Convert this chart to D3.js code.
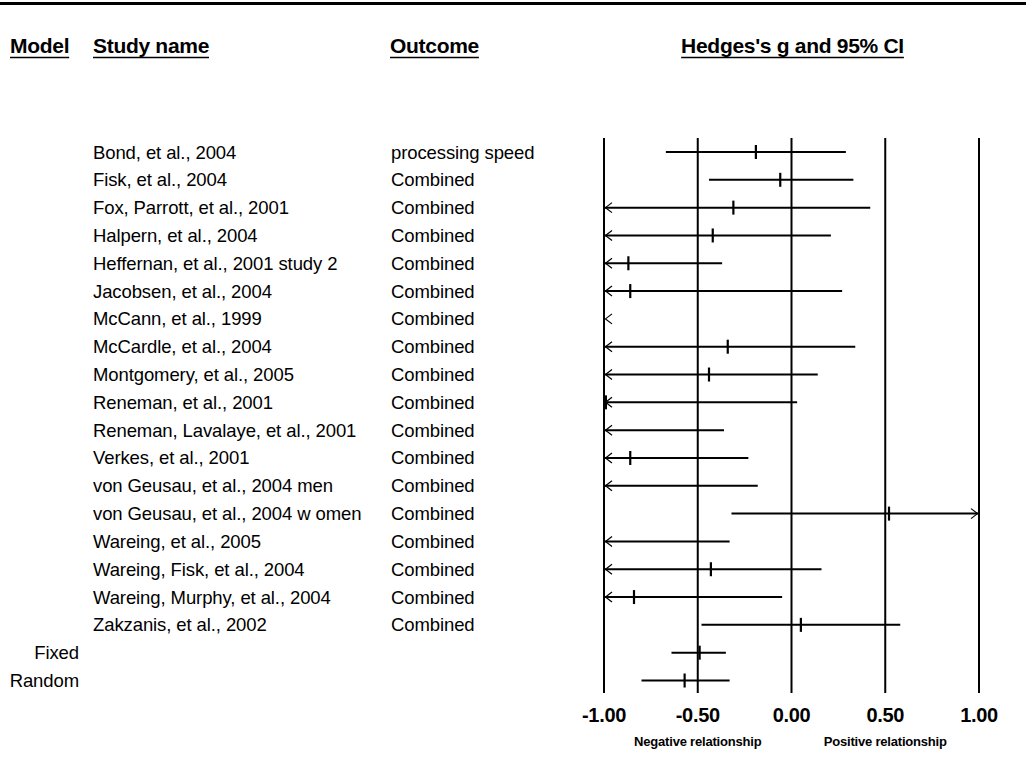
<!DOCTYPE html>
<html>
<head>
  <meta charset="utf-8">
  <title>Hedges's g forest plot</title>
  <script src="https://d3js.org/d3.v7.min.js"></script>
  <style>
    body {
      margin: 0;
      padding: 0;
      background: #fff;
    }

    text {
      font-family: "Liberation Sans", Arial, sans-serif;
      fill: #000;
    }
  </style>
</head>
<body>
  <div id="my_dataviz"></div>
  <script>
    // rows of the plot, top to bottom
    var modelNames = ["", "", "", "", "", "", "", "", "", "", "", "", "", "", "", "", "", "", "Fixed", "Random"]
    var studyNames = [
      "Bond, et al., 2004",
      "Fisk, et al., 2004",
      "Fox, Parrott, et al., 2001",
      "Halpern, et al., 2004",
      "Heffernan, et al., 2001 study 2",
      "Jacobsen, et al., 2004",
      "McCann, et al., 1999",
      "McCardle, et al., 2004",
      "Montgomery, et al., 2005",
      "Reneman, et al., 2001",
      "Reneman, Lavalaye, et al., 2001",
      "Verkes, et al., 2001",
      "von Geusau, et al., 2004 men",
      "von Geusau, et al., 2004 w omen",
      "Wareing, et al., 2005",
      "Wareing, Fisk, et al., 2004",
      "Wareing, Murphy, et al., 2004",
      "Zakzanis, et al., 2002",
      "",
      ""
    ]
    var outcomes = ["processing speed", "Combined", "Combined", "Combined", "Combined", "Combined", "Combined",
      "Combined", "Combined", "Combined", "Combined", "Combined", "Combined", "Combined", "Combined",
      "Combined", "Combined", "Combined", "", ""]

    // Hedges's g with lower / upper limits (off-scale ones estimated)
    var hedgesG = [-0.19, -0.06, -0.31, -0.42, -0.87, -0.86, -2.60, -0.34, -0.44, -0.99,
      -1.25, -0.86, -1.10, 0.52, -1.30, -0.43, -0.84, 0.05, -0.49, -0.57]
    var lowerCI = [-0.67, -0.44, -1.04, -1.05, -1.37, -1.99, -3.70, -1.02, -1.01, -2.01,
      -2.14, -1.48, -2.03, -0.32, -2.27, -1.02, -1.62, -0.48, -0.64, -0.80]
    var upperCI = [0.29, 0.33, 0.42, 0.21, -0.37, 0.27, -1.50, 0.34, 0.14, 0.03,
      -0.36, -0.23, -0.18, 1.36, -0.33, 0.16, -0.05, 0.58, -0.35, -0.33]

    var tickValues = [-1, -0.5, 0, 0.5, 1]
    var tickLabels = ["-1.00", "-0.50", "0.00", "0.50", "1.00"]
    var sideLabels = ["Negative relationship", "Positive relationship"]
    var sideValues = [-0.5, 0.5]

    var width = 1026,
      height = 778

    var svg = d3.select("#my_dataviz")
      .append("svg")
      .attr("width", width)
      .attr("height", height)

    svg.append("rect")
      .attr("width", width)
      .attr("height", height)
      .attr("fill", "#fff")

    // thick rule at the top
    svg.append("line")
      .attr("x1", 0).attr("x2", width)
      .attr("y1", 3.5).attr("y2", 3.5)
      .attr("stroke", "#000")
      .attr("stroke-width", 3)

    var x = d3.scaleLinear()
      .domain([-1, 1])
      .range([604, 979])

    var rows = d3.range(studyNames.length)
    var y = d3.scalePoint()
      .domain(rows)
      .range([152, 680.5])

    // column headings
    var headers = [
      { label: "Model", x: 10, anchor: "start" },
      { label: "Study name", x: 93, anchor: "start" },
      { label: "Outcome", x: 390, anchor: "start" },
      { label: "Hedges's g and 95% CI", x: x(0) + 1, anchor: "middle" }
    ]
    var head = svg.append("g")
    head.selectAll("text")
      .data(headers)
      .enter()
      .append("text")
      .attr("x", function (d) { return d.x })
      .attr("y", 53)
      .attr("text-anchor", function (d) { return d.anchor })
      .style("font-size", "21px")
      .style("font-weight", "bold")
      .style("letter-spacing", "-0.3px")
      .text(function (d) { return d.label })
      .each(function (d) {
        var bb = this.getBBox()
        head.append("line")
          .attr("x1", bb.x).attr("x2", bb.x + bb.width)
          .attr("y1", 57.5).attr("y2", 57.5)
          .attr("stroke", "#000")
          .attr("stroke-width", 1.5)
      })

    // text columns
    function column(values, xpos, anchor) {
      svg.append("g")
        .selectAll("text")
        .data(rows)
        .enter()
        .append("text")
        .attr("x", xpos)
        .attr("y", function (i) { return y(i) + 6.5 })
        .attr("text-anchor", anchor)
        .style("font-size", "18.5px")
        .style("letter-spacing", "-0.1px")
        .text(function (i) { return values[i] })
    }
    column(modelNames, 79, "end")
    column(studyNames, 93, "start")
    column(outcomes, 391, "start")

    // vertical reference lines
    svg.append("g")
      .selectAll("line")
      .data(tickValues)
      .enter()
      .append("line")
      .attr("x1", function (d) { return x(d) })
      .attr("x2", function (d) { return x(d) })
      .attr("y1", 138)
      .attr("y2", 693)
      .attr("stroke", "#000")
      .attr("stroke-width", 2)

    // axis labels
    svg.append("g")
      .selectAll("text")
      .data(tickValues)
      .enter()
      .append("text")
      .attr("x", function (d) { return x(d) })
      .attr("y", 722)
      .attr("text-anchor", "middle")
      .style("font-size", "20px")
      .style("font-weight", "bold")
      .style("letter-spacing", "-0.3px")
      .text(function (d, i) { return tickLabels[i] })

    svg.append("g")
      .selectAll("text")
      .data(sideValues)
      .enter()
      .append("text")
      .attr("x", function (d) { return x(d) })
      .attr("y", 745.5)
      .attr("text-anchor", "middle")
      .style("font-size", "13px")
      .style("font-weight", "bold")
      .style("letter-spacing", "-0.2px")
      .text(function (d, i) { return sideLabels[i] })

    // confidence intervals, clipped to the plotted range
    var lo = x.domain()[0], hi = x.domain()[1]
    var ci = svg.append("g")
    rows.forEach(function (i) {
      var yy = y(i)
      var a = Math.max(lowerCI[i], lo), b = Math.min(upperCI[i], hi)
      if (b > a) {
        ci.append("line")
          .attr("x1", x(a)).attr("x2", x(b))
          .attr("y1", yy).attr("y2", yy)
          .attr("stroke", "#000")
          .attr("stroke-width", 2)
      }
      if (lowerCI[i] < lo) {
        ci.append("path")
          .attr("d", "M" + (x(lo) + 8) + "," + (yy - 5) + "L" + (x(lo) + 1.5) + "," + yy + "L" + (x(lo) + 8) + "," + (yy + 5))
          .attr("fill", "none")
          .attr("stroke", "#000")
          .attr("stroke-width", 1.2)
      }
      if (upperCI[i] > hi) {
        ci.append("path")
          .attr("d", "M" + (x(hi) - 8) + "," + (yy - 5) + "L" + (x(hi) - 1.5) + "," + yy + "L" + (x(hi) - 8) + "," + (yy + 5))
          .attr("fill", "none")
          .attr("stroke", "#000")
          .attr("stroke-width", 1.2)
      }
      if (hedgesG[i] >= lo && hedgesG[i] <= hi) {
        ci.append("line")
          .attr("x1", x(hedgesG[i])).attr("x2", x(hedgesG[i]))
          .attr("y1", yy - 7).attr("y2", yy + 7)
          .attr("stroke", "#000")
          .attr("stroke-width", 2.2)
      }
    })
  </script>
</body>
</html>
